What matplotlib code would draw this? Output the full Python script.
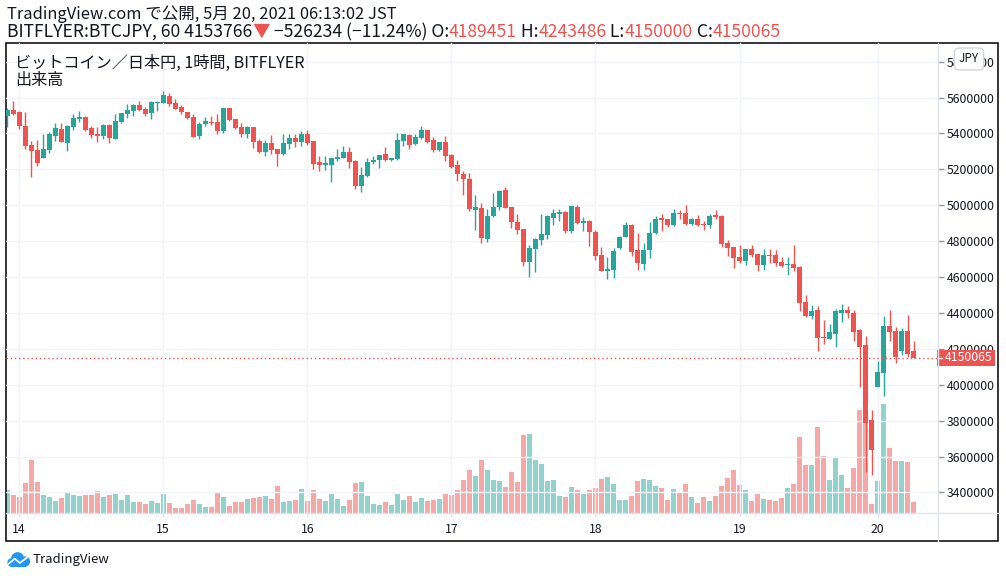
import numpy as np
import matplotlib.pyplot as plt
from matplotlib.lines import Line2D
from matplotlib.patches import Rectangle, Circle

W, H = 1006, 578
FONT = ['Noto Sans CJK JP', 'DejaVu Sans']
plt.rcParams['font.family'] = FONT

# BTC/JPY 1h candles, 5/13 22:00 - 5/20 06:00 JST (prices in thousand yen)
opens = [5498, 5530, 5519, 5441, 5335, 5308, 5265, 5308, 5386, 5425,
         5348, 5436, 5480, 5491, 5430, 5397, 5387, 5447, 5370, 5464,
         5510, 5526, 5558, 5536, 5514, 5571, 5569, 5608, 5569, 5547,
         5519, 5491, 5386, 5452, 5464, 5464, 5413, 5542, 5480, 5436,
         5397, 5436, 5358, 5296, 5347, 5313, 5285, 5341, 5374, 5352,
         5397, 5358, 5241, 5224, 5224, 5257, 5263, 5296, 5246, 5107,
         5163, 5241, 5252, 5285, 5252, 5257, 5358, 5391, 5341, 5374,
         5419, 5363, 5308, 5352, 5280, 5224, 5174, 5146, 4973, 4984,
         4812, 4940, 4990, 5085, 4990, 4906, 4867, 4684, 4756, 4806,
         4834, 4929, 4951, 4962, 4856, 4990, 4901, 4912, 4851, 4723,
         4633, 4639, 4762, 4823, 4890, 4750, 4672, 4750, 4845, 4929,
         4923, 4890, 4957, 4957, 4895, 4923, 4895, 4890, 4946, 4940,
         4789, 4767, 4711, 4689, 4756, 4728, 4667, 4723, 4723, 4684,
         4667, 4672, 4656, 4461, 4383, 4416, 4266, 4255, 4283, 4400,
         4416, 4400, 4304, 4221, 3803, 3988, 4066, 4327, 4299, 4188,
         4299, 4189.451]
highs = [5540, 5581, 5525, 5519, 5358, 5363, 5397, 5408, 5458, 5458,
         5447, 5508, 5525, 5497, 5441, 5436, 5452, 5452, 5508, 5514,
         5564, 5564, 5581, 5547, 5581, 5581, 5636, 5625, 5592, 5558,
         5519, 5508, 5464, 5491, 5497, 5508, 5542, 5542, 5480, 5458,
         5441, 5436, 5369, 5363, 5391, 5313, 5397, 5397, 5397, 5413,
         5419, 5358, 5274, 5274, 5263, 5313, 5330, 5324, 5252, 5213,
         5263, 5274, 5280, 5324, 5263, 5402, 5397, 5397, 5397, 5441,
         5419, 5380, 5352, 5386, 5285, 5252, 5191, 5179, 5057, 5012,
         4979, 5068, 5085, 5101, 4990, 4951, 4867, 4778, 4817, 4951,
         4946, 4979, 4979, 4968, 4996, 5001, 4934, 4918, 4862, 4767,
         4711, 4762, 4828, 4906, 4895, 4845, 4789, 4906, 4940, 4951,
         4923, 4979, 4973, 5001, 4929, 4946, 4912, 4951, 4973, 4946,
         4806, 4767, 4778, 4756, 4778, 4728, 4756, 4756, 4750, 4711,
         4711, 4778, 4661, 4500, 4444, 4438, 4360, 4338, 4422, 4450,
         4438, 4416, 4310, 4271, 3859, 4132, 4383, 4416, 4322, 4316,
         4388, 4243.486]
lows = [5438, 5502, 5426, 5313, 5159, 5220, 5265, 5291, 5358, 5354,
        5302, 5419, 5464, 5413, 5376, 5354, 5370, 5348, 5370, 5458,
        5486, 5497, 5525, 5497, 5480, 5525, 5569, 5553, 5536, 5508,
        5480, 5380, 5369, 5441, 5447, 5397, 5402, 5469, 5425, 5380,
        5374, 5319, 5291, 5274, 5285, 5218, 5280, 5313, 5324, 5330,
        5335, 5202, 5191, 5196, 5129, 5246, 5263, 5207, 5090, 5073,
        5157, 5230, 5207, 5246, 5246, 5252, 5330, 5313, 5335, 5369,
        5347, 5296, 5302, 5246, 5207, 5135, 5057, 4968, 4862, 4789,
        4795, 4934, 4973, 4984, 4873, 4840, 4661, 4600, 4628, 4778,
        4812, 4890, 4912, 4845, 4845, 4895, 4856, 4773, 4695, 4633,
        4589, 4594, 4756, 4823, 4717, 4639, 4639, 4706, 4840, 4856,
        4878, 4884, 4923, 4890, 4890, 4884, 4862, 4873, 4923, 4767,
        4717, 4650, 4678, 4667, 4711, 4633, 4639, 4678, 4661, 4656,
        4611, 4633, 4411, 4377, 4366, 4188, 4227, 4255, 4210, 4349,
        4372, 4244, 3987, 3514, 3497, 3988, 3937, 4244, 4121, 4166,
        4154, 4150.000]
closes = [5530, 5508, 5443, 5331, 5304, 5237, 5313, 5397, 5430, 5354,
          5441, 5486, 5491, 5419, 5393, 5387, 5447, 5376, 5469, 5514,
          5530, 5558, 5530, 5510, 5575, 5577, 5614, 5564, 5536, 5519,
          5486, 5380, 5452, 5469, 5458, 5413, 5542, 5475, 5430, 5397,
          5436, 5352, 5296, 5347, 5308, 5285, 5347, 5374, 5352, 5397,
          5347, 5230, 5224, 5235, 5263, 5269, 5296, 5241, 5107, 5168,
          5241, 5252, 5280, 5252, 5263, 5363, 5397, 5335, 5380, 5419,
          5352, 5308, 5352, 5274, 5213, 5174, 5146, 4979, 4990, 4817,
          4940, 4990, 5079, 4984, 4906, 4862, 4684, 4762, 4812, 4840,
          4940, 4957, 4962, 4856, 4996, 4901, 4912, 4851, 4717, 4633,
          4645, 4745, 4823, 4890, 4739, 4678, 4750, 4845, 4923, 4918,
          4890, 4957, 4951, 4895, 4923, 4890, 4890, 4940, 4934, 4784,
          4762, 4706, 4689, 4756, 4723, 4667, 4723, 4717, 4678, 4661,
          4672, 4650, 4455, 4383, 4411, 4260, 4260, 4294, 4411, 4416,
          4400, 4294, 4210, 3787, 3636, 4071, 4327, 4294, 4155, 4299,
          4171, 4150.065]
volumes = [230, 180, 160, 300, 530, 310, 180, 160, 120, 150,
           200, 180, 170, 180, 180, 220, 160, 180, 190, 130,
           180, 110, 110, 90, 120, 100, 190, 100, 50, 50,
           90, 130, 90, 60, 60, 200, 160, 70, 110, 110,
           140, 150, 160, 170, 140, 270, 110, 120, 130, 240,
           120, 230, 140, 120, 190, 140, 70, 130, 300, 310,
           170, 90, 80, 110, 80, 190, 130, 170, 110, 150,
           120, 130, 140, 190, 180, 230, 330, 430, 370, 530,
           430, 330, 320, 260, 410, 310, 780, 790, 530, 490,
           320, 330, 170, 160, 260, 230, 190, 230, 250, 340,
           360, 290, 130, 130, 170, 320, 340, 330, 270, 250,
           130, 240, 200, 290, 160, 100, 160, 120, 170, 270,
           350, 430, 280, 230, 120, 190, 140, 130, 120, 150,
           250, 290, 760, 480, 480, 860, 570, 330, 550, 380,
           250, 450, 1030, 1030, 90, 320, 1090, 650, 520, 520,
           510, 110]

day_pos = [2, 26, 50, 74, 98, 122, 145]
day_labels = ['14', '15', '16', '17', '18', '19', '20']
price_ticks = list(range(3400000, 5800001, 200000))

last_price = 4153766
change = -526234
change_pct = -11.24

UP, DOWN = '#26a69a', '#ef5350'
UP_V, DOWN_V = (38/255, 166/255, 154/255, 0.5), (239/255, 83/255, 80/255, 0.5)
TXT = '#131722'
SEP = '#e0e3eb'


def fx(px):
    return px / W


def fy(py):
    return 1 - py / H


o = np.array(opens) * 1000
h = np.array(highs) * 1000
l = np.array(lows) * 1000
c = np.array(closes) * 1000
x = np.arange(len(c))
up = c >= o

fig = plt.figure(figsize=(W / 100, H / 100), dpi=100)
ax = fig.add_axes([fx(6), fy(513), fx(938) - fx(6), fy(43) - fy(513)])
axv = ax.twinx()
ax.set_zorder(axv.get_zorder() + 1)
ax.patch.set_visible(False)

# volume
axv.bar(x, volumes, width=0.83, color=[UP_V if u else DOWN_V for u in up], lw=0)
axv.set_ylim(0, 4700)
axv.set_axis_off()

# candles
col = np.where(up, UP, DOWN)
ax.vlines(x, l, h, colors=col, lw=1.0, zorder=3)
ax.bar(x, np.maximum(np.abs(c - o), 5000), bottom=np.minimum(o, c),
       width=0.83, color=col, lw=0, zorder=4)

ymin, ymax = 3285250, 5903620
ax.set_ylim(ymin, ymax)
ax.set_xlim(-0.17, 155.04)

ax.yaxis.tick_right()
ax.set_yticks(price_ticks)
ax.set_yticklabels([str(t) for t in price_ticks])
ax.set_xticks(day_pos)
ax.set_xticklabels(day_labels)
ax.tick_params(axis='y', length=4, width=1, color='#9598a1', pad=2.0,
               labelsize=8.8, labelcolor=TXT)
ax.tick_params(axis='x', length=3, width=1, color=SEP, pad=4,
               labelsize=8.8, labelcolor=TXT)
ax.grid(True, color='#f0f3fa', lw=1)
ax.set_axisbelow(True)
for s in ax.spines.values():
    s.set_visible(False)

# last price line + label
ax.axhline(c[-1], color=DOWN, ls=(0, (1, 2)), lw=1, zorder=5)
ppx = (ymax - ymin) / 470
ax.add_patch(Rectangle((1 - 1 / 932, c[-1] - 8 * ppx), 58 / 932, 16 * ppx,
                       transform=ax.get_yaxis_transform(), clip_on=False,
                       fc=DOWN, ec='none', zorder=6))
ax.add_line(Line2D([1, 1 + 4 / 932], [c[-1], c[-1]], color='white', lw=1,
                   transform=ax.get_yaxis_transform(), clip_on=False, zorder=7))
ax.text(1 + 7 / 932, c[-1], f'{int(round(c[-1]))}', transform=ax.get_yaxis_transform(),
        ha='left', va='center', color='white', fontsize=8.8, zorder=8, clip_on=False)

# frame and separators
fig.add_artist(Line2D([fx(6), fx(998)], [fy(513), fy(513)], color=SEP, lw=1))
fig.add_artist(Line2D([fx(938), fx(938)], [fy(43), fy(541)], color=SEP, lw=1))
fig.add_artist(Rectangle((fx(6), fy(541)), fx(998) - fx(6), fy(43) - fy(541),
                         transform=fig.transFigure, fill=False, ec='black', lw=1.1))

# currency badge
fig.text(fx(969), fy(59), 'JPY', ha='center', va='center', fontsize=8.5, color=TXT,
         bbox=dict(boxstyle='round,pad=0.38,rounding_size=0.4', fc='white', ec='#d1d4dc'))

# headers
fig.text(fx(7), fy(14), 'TradingView.com で公開, 5月 20, 2021 06:13:02 JST',
         va='center', ha='left', fontsize=11.9, color=TXT)
parts = [(f'BITFLYER:BTCJPY, 60 {last_price}', TXT), ('▼', DOWN),
         (f' −{abs(change)} (−{abs(change_pct):.2f}%) O:', TXT), (f'{int(round(o[-1]))}', DOWN),
         (' H:', TXT), (f'{int(round(h[-1]))}', DOWN),
         (' L:', TXT), (f'{int(round(l[-1]))}', DOWN),
         (' C:', TXT), (f'{int(round(c[-1]))}', DOWN)]
t = fig.text(fx(7), fy(32), parts[0][0], va='center', ha='left', fontsize=12.65, color=parts[0][1])
for s, colr in parts[1:]:
    t = ax.annotate(s, xy=(1, 0), xycoords=t, va='bottom', ha='left',
                    fontsize=12.65, color=colr, annotation_clip=False)

fig.text(fx(15), fy(63), 'ビットコイン／日本円, 1時間, BITFLYER', va='center', ha='left',
         fontsize=11.6, color=TXT)
fig.text(fx(15), fy(80), '出来高', va='center', ha='left', fontsize=11.6, color=TXT)

# logo
lax = fig.add_axes([fx(7), fy(568), fx(31) - fx(7), fy(551) - fy(568)])
lax.set_xlim(0, 1.4)
lax.set_ylim(0, 1)
lax.set_axis_off()
logo_blue = '#2196f3'
for cx, cy, r in [(0.62, 0.55, 0.38), (1.05, 0.38, 0.3), (0.28, 0.32, 0.26)]:
    lax.add_patch(Circle((cx, cy), r, fc=logo_blue, ec='none'))
lax.add_patch(Rectangle((0.28, 0.06), 0.8, 0.3, fc=logo_blue, ec='none'))
lax.plot([0.1, 0.45, 0.75, 1.15], [0.25, 0.55, 0.3, 0.6], color='white', lw=1.3)
fig.text(fx(33), fy(559), 'TradingView', va='center', ha='left', fontsize=9.5, color=TXT)

fig.savefig('out.png', dpi=100)
